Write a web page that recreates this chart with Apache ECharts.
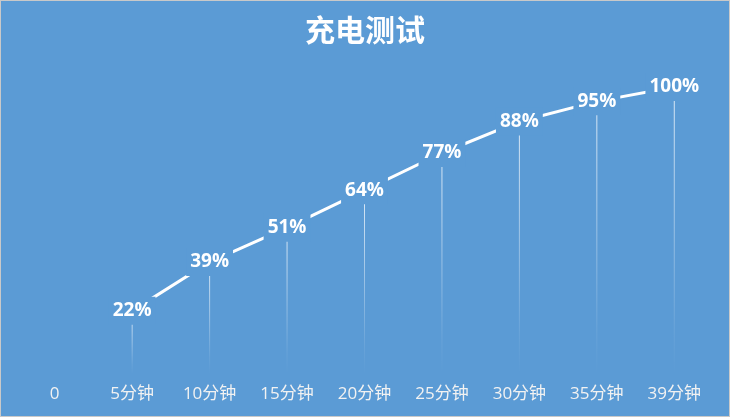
<!DOCTYPE html>
<html><head><meta charset="utf-8">
<script src="https://cdn.jsdelivr.net/npm/echarts@6/dist/echarts.min.js"></script>
<style>
html,body{margin:0;padding:0;background:#fff;}
#wrap{width:730px;height:417px;box-sizing:border-box;border:1px solid #c9c9c9;}
#c{width:728px;height:415px;}
</style></head>
<body><div id="wrap"><div id="c"></div></div>
<script>
const title = '充电测试';
const categories = ['0','5分钟','10分钟','15分钟','20分钟','25分钟','30分钟','35分钟','39分钟'];
const values = [null,22,39,51,64,77,88,95,100];
const BG = '#5B9BD5';
const FONT = '"Open Sans", "Noto Sans CJK SC", sans-serif';
const chart = echarts.init(document.getElementById('c'));
chart.setOption({
  backgroundColor: BG,
  animation: false,
  title: {text: title, left: 'center', top: 9,
    textStyle: {color:'#fff', fontSize:30, fontWeight:'bold', fontFamily:'"Noto Sans CJK SC"'}},
  grid: {left: 15, right: 16, top: 86, bottom: 42},
  xAxis: {type:'category', data: categories, boundaryGap:true,
    axisLine:{show:false}, axisTick:{show:false}, splitLine:{show:false},
    axisLabel:{color:'#f2f2f2', fontSize:17, margin:12, fontFamily:FONT}},
  yAxis: {type:'value', min:0, max:100, show:false},
  series: [
    {type:'bar', z:1, barWidth:1, silent:true,
     data: values.map(v => v == null ? '-' : v),
     itemStyle:{color:{type:'linear',x:0,y:0,x2:0,y2:1,colorStops:[
       {offset:0,color:'rgba(255,255,255,0.8)'},{offset:0.85,color:'rgba(255,255,255,0.08)'},{offset:1,color:'rgba(255,255,255,0)'}]}}},
    {type:'line', z:3, data: values.map(v => v == null ? '-' : v),
     showSymbol:true, symbol:'circle', symbolSize:1,
     itemStyle:{color:'#fff'},
     lineStyle:{color:'#fff', width:3},
     label:{show:true, position:'inside', formatter:'{c}%', color:'#fff',
       fontSize:19, fontWeight:'bold', fontFamily:FONT,
       backgroundColor:BG, padding:[5,4,4,4]}}
  ]
});
</script></body></html>
